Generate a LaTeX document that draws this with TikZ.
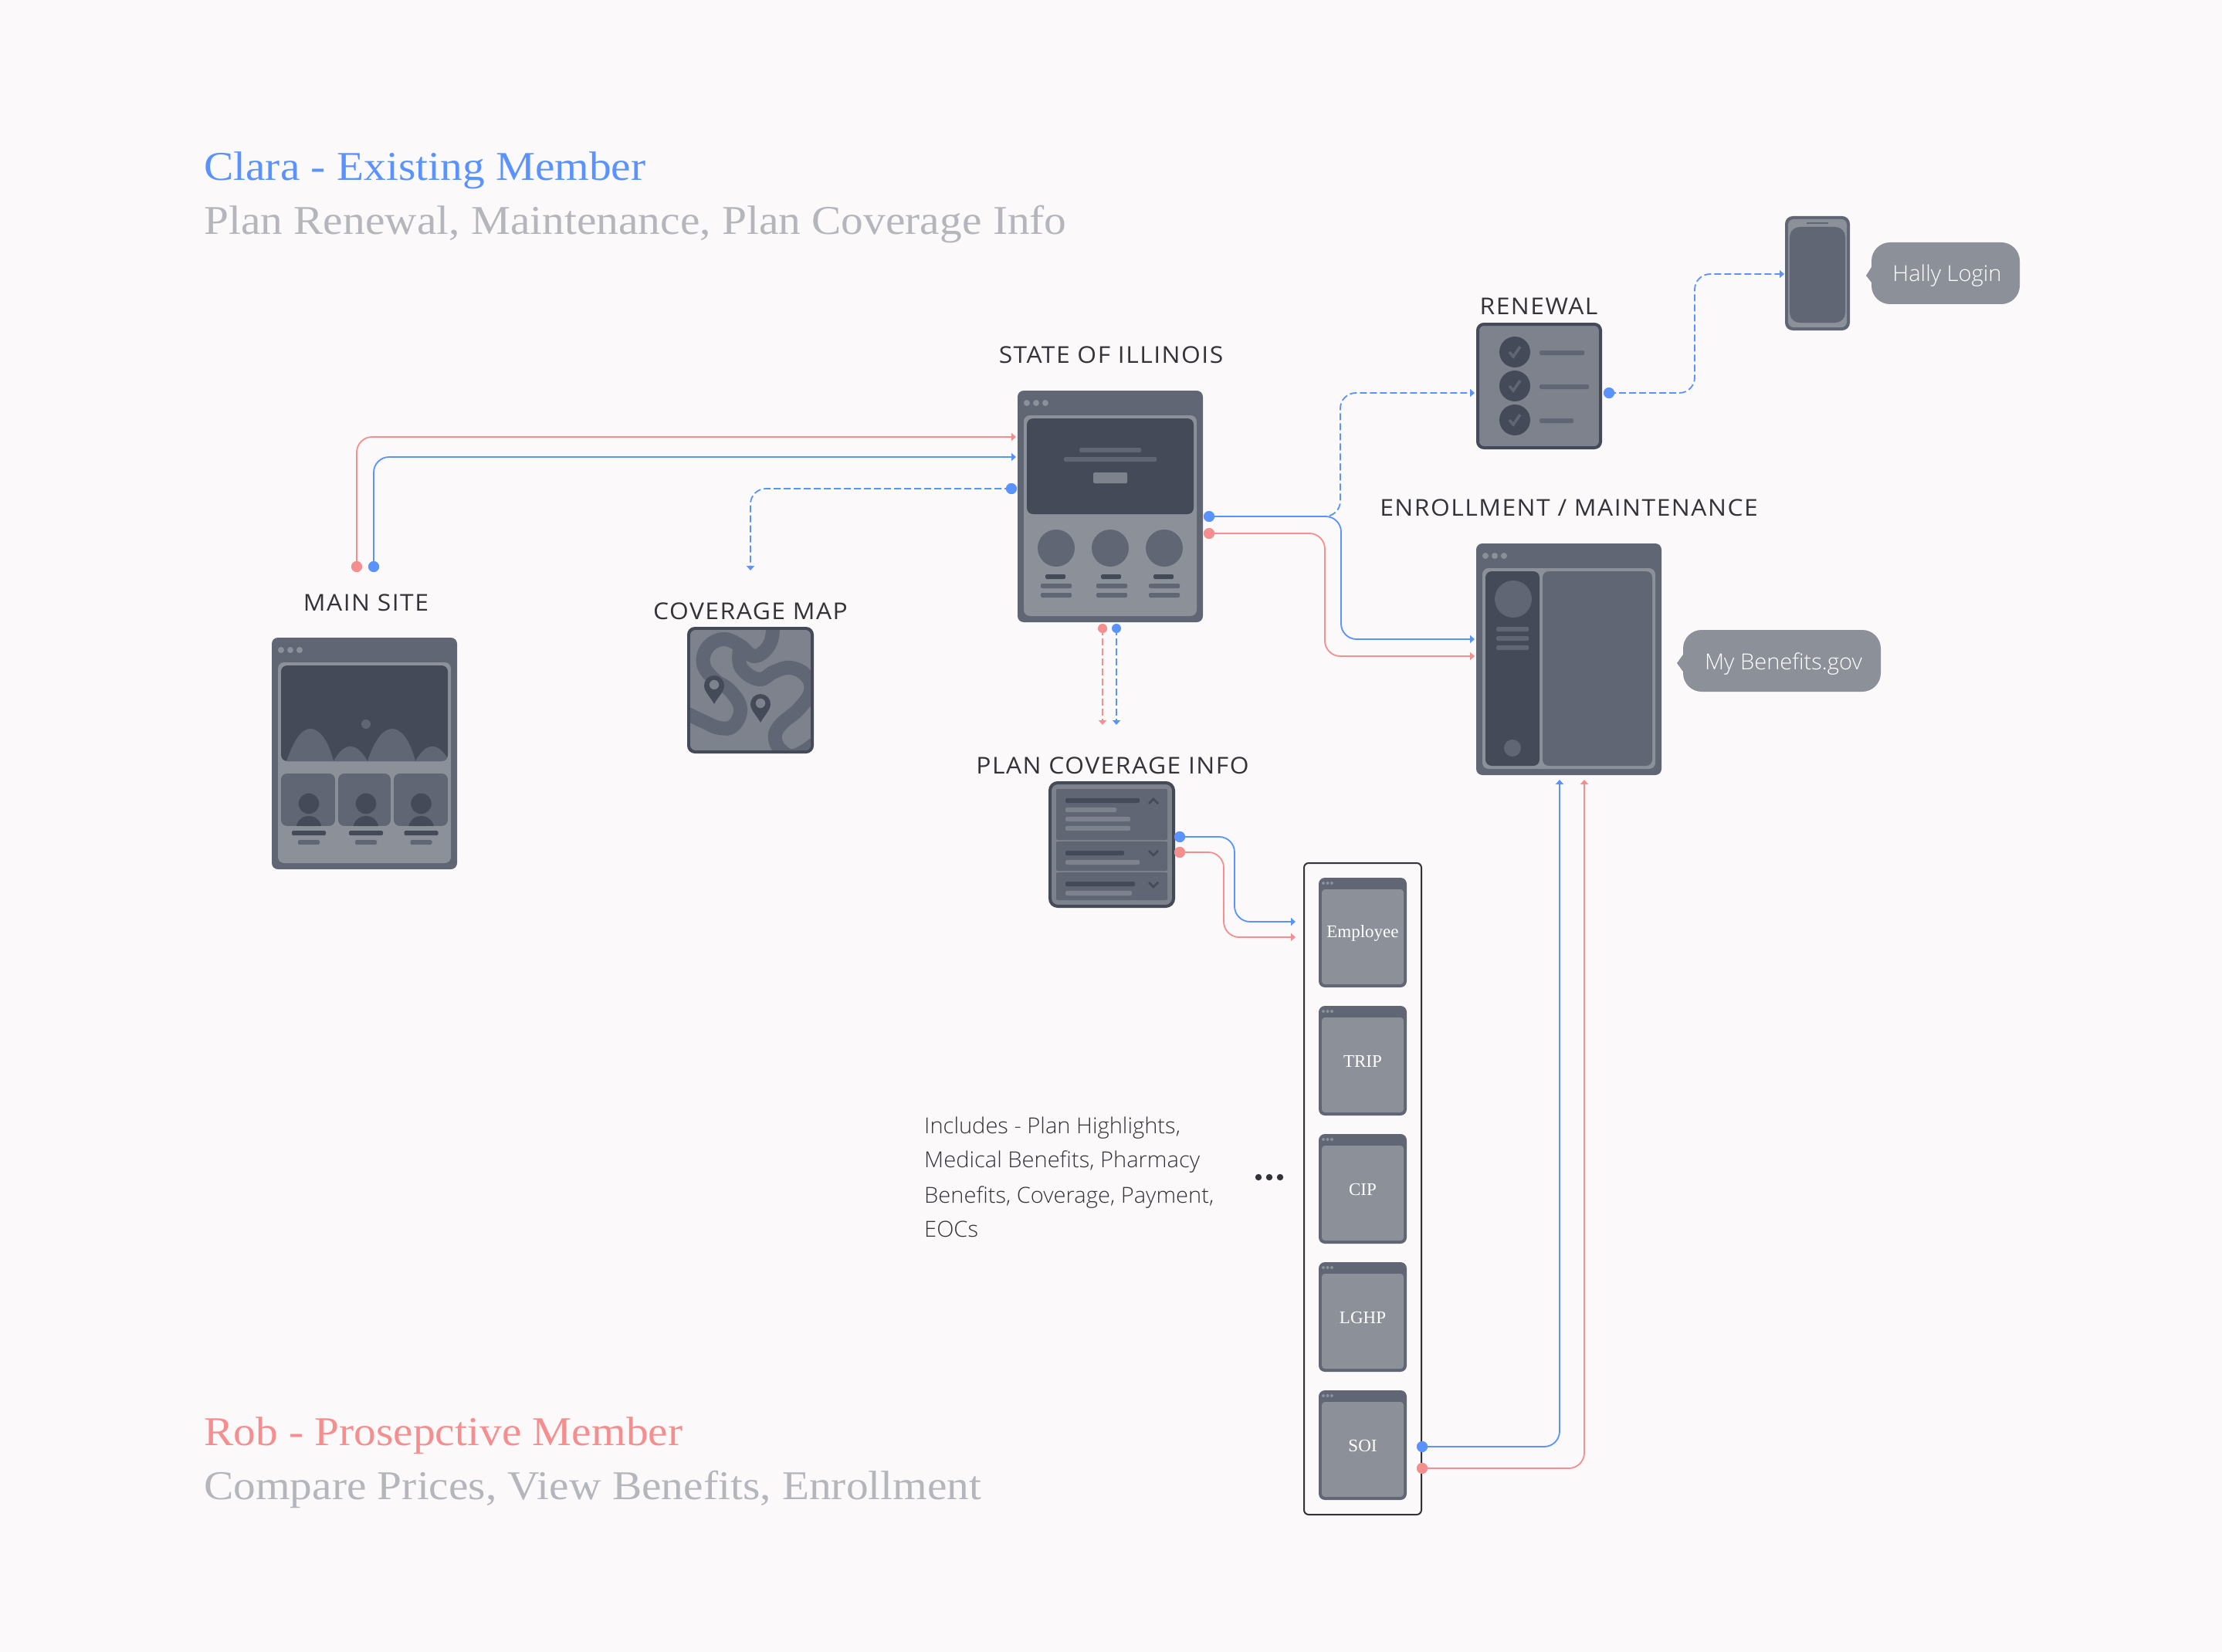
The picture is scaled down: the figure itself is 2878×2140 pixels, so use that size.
\documentclass[tikz,border=0pt]{standalone}
\usepackage{fontspec}
\usetikzlibrary{arrows.meta,calc}
\setmainfont{Open Sans}
\newfontfamily\lightf{Open Sans Light}[FakeStretch=1.02]
\newfontfamily\labelf{Open Sans}[FakeStretch=1.06,LetterSpace=5]
\newfontfamily\titlef{Liberation Serif}[FakeStretch=1.083]
\newfontfamily\winf{Liberation Serif}
\definecolor{bgc}{HTML}{FBF9FA}
\definecolor{dk}{HTML}{454A58}
\definecolor{md}{HTML}{606674}
\definecolor{lt}{HTML}{8B9099}
\definecolor{cv}{HTML}{7D828D}
\definecolor{bluec}{HTML}{5A93FF}
\definecolor{redc}{HTML}{F58F8F}
\definecolor{greyt}{HTML}{B4B6BC}
\definecolor{inkc}{HTML}{333338}
\tikzset{
  conn/.style={line width=1.8pt,rounded corners=20pt,-{Triangle[length=6pt,width=10pt]}},
  dconn/.style={conn,dash pattern=on 9pt off 4pt},
  bluel/.style={draw=bluec,color=bluec},
  redl/.style={draw=redc,color=redc},
  dotn/.style={circle,inner sep=0pt,minimum size=14pt,draw=none},
  dots/.style={circle,inner sep=0pt,minimum size=12pt,draw=none},
  lbl/.style={anchor=base,text=inkc,inner sep=0pt,font=\labelf\fontsize{30}{34}\selectfont},
  ttl/.style={anchor=base west,inner sep=0pt,font=\titlef\fontsize{53}{60}\selectfont},
  bub/.style={anchor=base,inner sep=0pt,text=white,font=\lightf\fontsize{28.5}{32}\selectfont},
  win/.style={anchor=center,inner sep=0pt,text=white,font=\winf\fontsize{23}{26}\selectfont},
  para/.style={anchor=base west,inner sep=0pt,text=inkc,font=\lightf\fontsize{28.5}{32}\selectfont},
}
\newcommand{\rb}[5]{\fill[#5,rounded corners=1.5pt] (#1,#2) rectangle (#3,#4);}
\newcommand{\rr}[6]{\fill[#6,rounded corners=#5pt] (#1,#2) rectangle (#3,#4);}
% large browser frame: x,y top-left (240x300)
\newcommand{\frameb}[2]{%
  \rr{#1}{#2}{#1+240}{#2+300}{8}{md}
  \rr{#1+8}{#2+32}{#1+232}{#2+292}{8}{lt}
  \foreach \q in {12,24,36}{\fill[lt] (#1+\q,#2+16) circle (4pt);}
}
% mini browser with label
\newcommand{\miniwin}[3]{%
  \rr{1708}{#2}{1822}{#2+142}{8}{md}
  \rr{1712}{#2+15}{1818}{#2+138}{4}{lt}
  \foreach \q in {1714,1719.5,1725}{\fill[lt] (\q,#2+7) circle (2pt);}
  \node[win] (#1) at (1765,#2+72) {#3};
}
\begin{document}
\begin{tikzpicture}[x=1pt,y=-1pt]
\useasboundingbox (0,0) rectangle (2878,2140);
\fill[bgc] (0,0) rectangle (2878,2140);

% titles
\node[ttl,text=bluec] (t1) at (264,234) {Clara - Existing Member};
\node[ttl,text=greyt] (t2) at (264,304) {Plan Renewal, Maintenance, Plan Coverage Info};
\node[ttl,text=redc] (t3) at (264,1872) {Rob - Prosepctive Member};
\node[ttl,text=greyt] (t4) at (264,1942) {Compare Prices, View Benefits, Enrollment};

% labels
\node[lbl] (lMain) at (474,791) {MAIN SITE};
\node[lbl] (lCov) at (972,802) {COVERAGE MAP};
\node[lbl] (lState) at (1439,470) {STATE OF ILLINOIS};
\node[lbl] (lRen) at (1993,408) {RENEWAL};
\node[lbl] (lEnr) at (2032,668) {ENROLLMENT / MAINTENANCE};
\node[lbl] (lPlan) at (1441,1002) {PLAN COVERAGE INFO};

% MAIN SITE
\frameb{352}{826}
\rr{364}{862}{580}{986}{8}{dk}
\begin{scope}
  \clip[rounded corners=8pt] (364,862) rectangle (580,986);
  \fill[md] (371,986) .. controls (382,955) and (392,944) .. (402,944) .. controls (412,944) and (424,955) .. (432,986) -- cycle;
  \fill[md] (432,986) .. controls (440,972) and (447,967) .. (454,967) .. controls (461,967) and (468,972) .. (476,986) -- cycle;
  \fill[md] (476,986) .. controls (486,955) and (498,944) .. (508,944) .. controls (518,944) and (530,955) .. (538,986) -- cycle;
  \fill[md] (538,986) .. controls (546,972) and (553,967) .. (560,967) .. controls (567,967) and (574,972) .. (582,986) -- cycle;
\end{scope}
\fill[md] (474,938) circle (6pt);
\foreach \a/\b/\c in {364/434/400,438/506/474,510/580/545.5}{
  \begin{scope}
    \clip[rounded corners=8pt] (\a,1002) rectangle (\b,1070);
    \fill[md] (\a,1002) rectangle (\b,1070);
    \fill[dk] (\c,1041) circle (13.3pt);
    \fill[dk] (\c,1073) ellipse (16.5pt and 16pt);
  \end{scope}
  \rb{\c-22}{1076}{\c+22}{1082}{dk}
  \rb{\c-14}{1088}{\c+14}{1094}{md}
}

% COVERAGE MAP
\rr{890}{812}{1054}{976}{10}{dk}
\begin{scope}
  \clip[rounded corners=7pt] (894,816) rectangle (1050,972);
  \fill[cv] (894,816) rectangle (1050,972);
  \draw[md,line width=18pt] plot[smooth,tension=0.7] coordinates {(1001,800) (998,832) (978,850) (958,836) (937,828) (917,838) (911,860) (925,880) (946,895) (959,918) (950,940) (932,943) (910,934) (885,922)};
  \draw[md,line width=18pt] plot[smooth,tension=0.7] coordinates {(958,842) (960,865) (983,880) (1003,870) (1024,865) (1044,875) (1050,895) (1035,918) (1010,940) (1004,958) (1015,975) (1032,978) (1060,960)};
  \foreach \px/\py in {925/888,985/912}{
    \fill[dk] (\px-13,\py) arc (180:0:13pt) .. controls (\px+13,\py+8) and (\px+4,\py+16) .. (\px,\py+24) .. controls (\px-4,\py+16) and (\px-13,\py+8) .. (\px-13,\py) -- cycle;
    \fill[cv] (\px,\py-1) circle (6.2pt);
  }
\end{scope}

% STATE OF ILLINOIS
\frameb{1318}{506}
\rr{1330}{542}{1546}{666}{8}{dk}
\rb{1398}{580}{1478}{586}{md}
\rb{1378}{592}{1498}{598}{md}
\rb{1416}{612}{1460}{626}{cv}
\foreach \c in {1368,1438,1508}{
  \fill[md] (\c,710) circle (24pt);
}
\foreach \c in {1367,1439,1507}{
  \rb{\c-13}{744}{\c+13}{750}{dk}
}
\foreach \c in {1368,1440,1508}{
  \rb{\c-20}{756}{\c+20}{762}{md}
  \rb{\c-20}{768}{\c+20}{774}{md}
}

% RENEWAL
\fill[cv,draw=dk,line width=4pt,rounded corners=8pt] (1914,420) rectangle (2073,580);
\foreach \y/\l in {456/2052,500/2058,544/2038}{
  \fill[dk] (1962,\y) circle (20pt);
  \draw[md,line width=3.6pt] (1955,\y) -- (1960,\y+6) -- (1969,\y-7);
  \rb{1994}{\y-2}{\l}{\y+4}{md}
}

% PHONE
\rr{2312}{280}{2396}{428}{10}{md}
\rr{2316}{284}{2392}{424}{7}{lt}
\rr{2318}{294}{2390}{418}{13}{md}
\fill[md] (2340,288) rectangle (2368,290);

% ENROLLMENT
\frameb{1912}{704}
\rr{1924}{740}{1994}{992}{8}{dk}
\rr{1998}{740}{2140}{992}{8}{md}
\fill[md] (1960,776) circle (24pt);
\rb{1938}{812}{1980}{818}{md}
\rb{1938}{824}{1980}{830}{md}
\rb{1938}{836}{1980}{842}{md}
\fill[md] (1959,969) circle (11pt);

% PLAN COVERAGE
\fill[cv,draw=dk,line width=4pt,rounded corners=10pt] (1360,1014) rectangle (1520,1174);
\rr{1368}{1022}{1512}{1088}{2}{md}
\rr{1368}{1090}{1512}{1128}{2}{md}
\rr{1368}{1130}{1512}{1166}{2}{md}
\rb{1380}{1034}{1476}{1040}{dk}
\rb{1380}{1046}{1446}{1052}{cv}
\rb{1380}{1058}{1464}{1064}{cv}
\rb{1380}{1070}{1464}{1076}{cv}
\rb{1380}{1102}{1456}{1108}{dk}
\rb{1380}{1114}{1476}{1120}{cv}
\rb{1380}{1142}{1470}{1148}{dk}
\rb{1380}{1154}{1466}{1160}{cv}
\draw[dk,line width=2.6pt] (1488,1041) -- (1494,1035) -- (1500,1041);
\draw[dk,line width=2.6pt] (1488,1102) -- (1494,1108) -- (1500,1102);
\draw[dk,line width=2.6pt] (1488,1143) -- (1494,1149) -- (1500,1143);

% Bubbles
\fill[lt] (2424,346) -- (2417,357) -- (2424,366) -- cycle;
\rr{2424}{314}{2616}{394}{24}{lt}
\node[bub] (hally) at (2522,365) {Hally Login};
\fill[lt] (2180,848) -- (2172,859) -- (2180,870) -- cycle;
\rr{2180}{816}{2436}{896}{24}{lt}
\node[bub] (myb) at (2310,867) {My Benefits.gov};

% Container and mini windows
\draw[inkc,line width=2pt,rounded corners=6pt] (1689,1118) rectangle (1841,1962);
\miniwin{wEmp}{1137}{Employee}
\miniwin{wTrip}{1303}{TRIP}
\miniwin{wCip}{1469}{CIP}
\miniwin{wLghp}{1635}{LGHP}
\miniwin{wSoi}{1801}{SOI}

% Paragraph
\node[para] (p1) at (1197,1468) {Includes - Plan Highlights,};
\node[para] (p2) at (1197,1512) {Medical Benefits, Pharmacy};
\node[para] (p3) at (1197,1558) {Benefits, Coverage, Payment,};
\node[para] (p4) at (1197,1602) {EOCs};
\foreach \x in {1630,1644,1658}{\fill[inkc] (\x,1525) circle (4.2pt);}

% Connector ends
\coordinate (stR) at (1316,566);
\coordinate (stB) at (1316,592);
\coordinate (mapIn) at (972,739);
\coordinate (renIn) at (1910,509);
\coordinate (phIn) at (2311,355);
\coordinate (enB) at (1910,828);
\coordinate (enR) at (1910,850);
\coordinate (enUB) at (2020,1010);
\coordinate (enUR) at (2052,1010);
\coordinate (boxB) at (1678,1194);
\coordinate (boxR) at (1678,1214);
\coordinate (plB) at (1446,939);
\coordinate (plR) at (1428,939);

% Dots
\node[dotn,fill=redc] (dMR) at (462,734) {};
\node[dotn,fill=bluec] (dMB) at (484,734) {};
\node[dotn,fill=bluec] (dSL) at (1310,633) {};
\node[dotn,fill=bluec] (dSB) at (1566,669) {};
\node[dotn,fill=redc] (dSR) at (1566,691) {};
\node[dots,fill=redc] (dDR) at (1428,814) {};
\node[dots,fill=bluec] (dDB) at (1446,814) {};
\node[dotn,fill=bluec] (dRen) at (2084,509) {};
\node[dotn,fill=bluec] (dPB) at (1528,1084) {};
\node[dotn,fill=redc] (dPR) at (1528,1104) {};
\node[dotn,fill=bluec] (dSoB) at (1842,1874) {};
\node[dotn,fill=redc] (dSoR) at (1842,1902) {};

% Connectors
\draw[conn,redl] (dMR.center) |- (stR);
\draw[conn,bluel] (dMB.center) |- (stB);
\draw[dconn,bluel] (dSL.center) -| (mapIn);
\draw[conn,bluel] (dSB.center) -| (1737,750) |- (enB);
\draw[conn,redl] (dSR.center) -| (1716,770) |- (enR);
\draw[dconn,bluel] (dSB.center) -| (1736,590) |- (renIn);
\draw[dconn,bluel] (dRen.center) -| (2195,430) |- (phIn);
\draw[dconn,redl] (dDR.center) -- (plR);
\draw[dconn,bluel] (dDB.center) -- (plB);
\draw[conn,bluel] (dPB.center) -| (1599,1140) |- (boxB);
\draw[conn,redl] (dPR.center) -| (1585,1160) |- (boxR);
\draw[conn,bluel] (dSoB.center) -| (enUB);
\draw[conn,redl] (dSoR.center) -| (enUR);

% Redraw dots above connectors
\foreach \n/\c in {dMR/redc,dMB/bluec,dSL/bluec,dSB/bluec,dSR/redc,dRen/bluec,dPB/bluec,dPR/redc,dSoB/bluec,dSoR/redc}{
  \fill[\c] (\n.center) circle (7pt);
}
\end{tikzpicture}
\end{document}
